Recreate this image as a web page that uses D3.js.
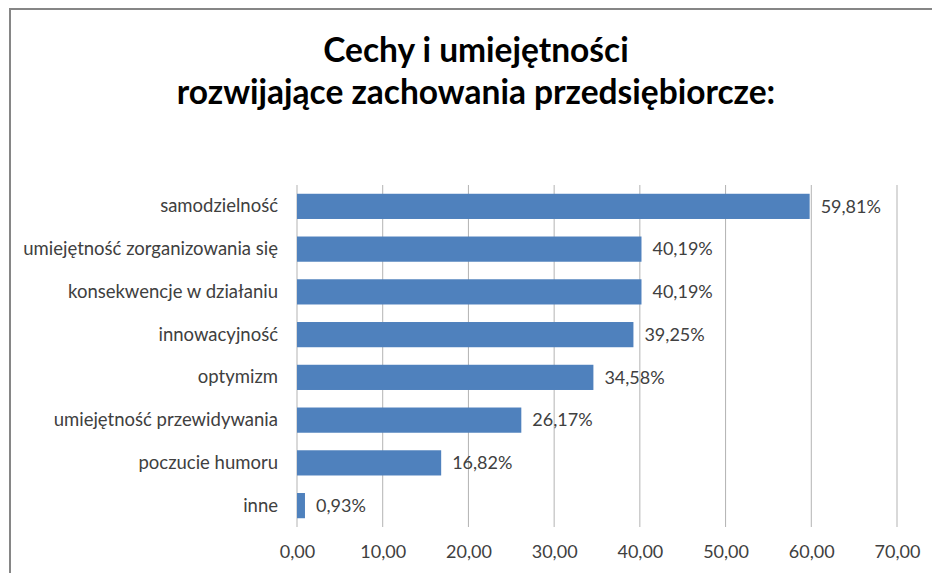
<!DOCTYPE html>
<html>
<head>
<meta charset="utf-8">
<script src="https://cdn.jsdelivr.net/npm/d3@7"></script>
<style>
  body { margin: 0; background: #fff; }
  svg text { font-family: Lato, "Open Sans", sans-serif; }
</style>
</head>
<body>
<div id="chart"></div>
<script>
const categories = [
  "samodzielność",
  "umiejętność zorganizowania się",
  "konsekwencje w działaniu",
  "innowacyjność",
  "optymizm",
  "umiejętność przewidywania",
  "poczucie humoru",
  "inne"
];
const values = [59.81, 40.19, 40.19, 39.25, 34.58, 26.17, 16.82, 0.93];
const tickValues = [0, 10, 20, 30, 40, 50, 60, 70];
const titleLines = ["Cechy i umiejętności", "rozwijające zachowania przedsiębiorcze:"];

const W = 932, H = 573;
const margin = { top: 185, right: 35, bottom: 46, left: 297 };
const width = W - margin.left - margin.right;
const height = H - margin.top - margin.bottom;

const svg = d3.select('#chart')
  .append('svg')
    .attr('width', W)
    .attr('height', H);

// frame of the chart area
svg.append('path')
  .attr('d', `M10,${H + 5} V9 H${W + 5}`)
  .attr('fill', 'none')
  .attr('stroke', '#868686')
  .attr('stroke-width', 2);

svg.append('g')
  .selectAll('text')
  .data(titleLines)
  .join('text')
    .attr('x', 476)
    .attr('y', (d, i) => 62 + i * 42)
    .attr('text-anchor', 'middle')
    .style('font-size', '33.5px')
    .style('font-weight', 'bold')
    .attr('fill', '#000')
    .text(d => d);

const g = svg.append('g')
  .attr('transform', `translate(${margin.left},${margin.top})`);

const x = d3.scaleLinear()
  .domain([0, 70])
  .range([0, width]);

const y = d3.scaleBand()
  .domain(categories)
  .range([0, height])
  .paddingInner(0.41)
  .paddingOuter(0.205);

// gridlines
g.append('g')
  .selectAll('line')
  .data(tickValues)
  .join('line')
    .attr('x1', d => x(d))
    .attr('x2', d => x(d))
    .attr('y1', 0)
    .attr('y2', height)
    .attr('stroke', '#b3b3b3')
    .attr('stroke-width', 1);

const xAxis = d3.axisBottom(x)
  .tickValues(tickValues)
  .tickSize(0)
  .tickPadding(18)
  .tickFormat(d => d3.format('.2f')(d).replace('.', ','));

g.append('g')
  .attr('transform', `translate(0,${height})`)
  .call(xAxis)
  .call(s => s.select('.domain').remove())
  .selectAll('text')
    .style('font-size', '18px')
    .style('font-family', 'Lato, sans-serif')
    .attr('fill', '#404040');

const yAxis = d3.axisLeft(y).tickSize(0).tickPadding(19);

g.append('g')
  .call(yAxis)
  .call(s => s.select('.domain').remove())
  .selectAll('text')
    .style('font-size', '18.5px')
    .style('font-family', 'Lato, sans-serif')
    .attr('fill', '#404040');

g.append('g')
  .selectAll('rect')
  .data(values)
  .join('rect')
    .attr('x', 0)
    .attr('y', (d, i) => y(categories[i]))
    .attr('width', d => x(d))
    .attr('height', y.bandwidth())
    .attr('fill', '#4f81bd');

g.append('g')
  .selectAll('text')
  .data(values)
  .join('text')
    .attr('x', d => x(d) + 11)
    .attr('y', (d, i) => y(categories[i]) + y.bandwidth() / 2)
    .attr('dy', '0.35em')
    .style('font-size', '18px')
    .attr('fill', '#404040')
    .text(d => d3.format('.2f')(d).replace('.', ',') + '%');
</script>
</body>
</html>
